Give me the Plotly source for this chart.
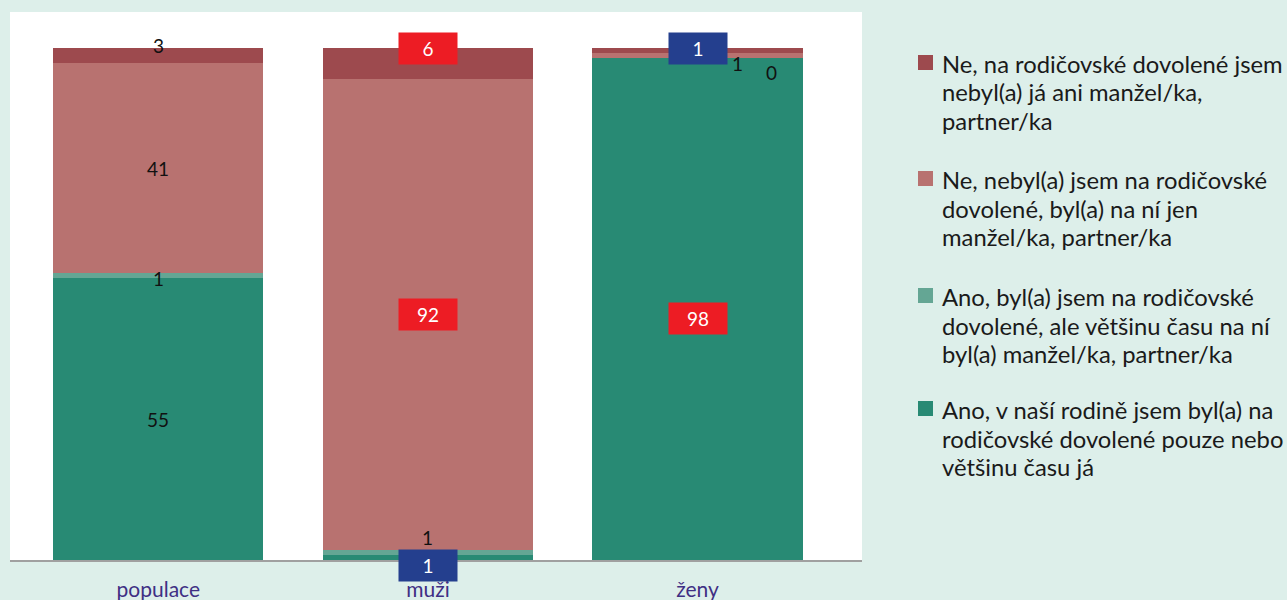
import plotly.graph_objects as go

# Kategorie a podíly (%) jednotlivých odpovědí
categories = ["populace", "muži", "ženy"]

ano_jen_ja = [55, 1, 98]
ano_vetsinou_partner = [1, 1, 0]
ne_jen_partner = [41, 92, 1]
ne_nikdo = [3, 6, 1]

series_names = [
    ["Ano, v naší rodině jsem byl(a) na", "rodičovské dovolené pouze nebo", "většinu času já"],
    ["Ano, byl(a) jsem na rodičovské", "dovolené, ale většinu času na ní", "byl(a) manžel/ka, partner/ka"],
    ["Ne, nebyl(a) jsem na rodičovské", "dovolené, byl(a) na ní jen", "manžel/ka, partner/ka"],
    ["Ne, na rodičovské dovolené jsem", "nebyl(a) já ani manžel/ka,", "partner/ka"],
]
series_values = [ano_jen_ja, ano_vetsinou_partner, ne_jen_partner, ne_nikdo]
series_colors = ["#288A74", "#64A694", "#B87270", "#9D4A4E"]

BG = "#DDEFEA"
FONT = "Lato, 'Open Sans', sans-serif"

fig = go.Figure()
for name, vals, col in zip(series_names, series_values, series_colors):
    fig.add_trace(go.Bar(
        x=categories, y=vals, name=" ".join(name), marker=dict(color=col, line=dict(width=0)),
        width=0.78, showlegend=False, hoverinfo="skip",
    ))

# Popisky hodnot: (série, kategorie) -> barva rámečku a posun v px
RED_BOX = "#ED1C24"
BLUE_BOX = "#243F8E"
label_style = {
    (0, 0): (None, 0, 0), (1, 0): (None, 0, -3), (2, 0): (None, 0, 0), (3, 0): (None, 0, 10),
    (0, 1): (BLUE_BOX, 0, -8), (1, 1): (None, 0, 15), (2, 1): (RED_BOX, 0, 0), (3, 1): (RED_BOX, 0, 15),
    (0, 2): (RED_BOX, 0, -9), (1, 2): (None, 74, -14), (2, 2): (None, 40, -8), (3, 2): (BLUE_BOX, 0, 2),
}

annotations = []
for ci, cat in enumerate(categories):
    base = 0
    for si, vals in enumerate(series_values):
        v = vals[ci]
        mid = base + v / 2
        base += v
        box, dx, dy = label_style[(si, ci)]
        ann = dict(
            x=cat, y=mid, xref="x", yref="y", text=str(v), showarrow=False,
            xshift=dx, yshift=dy, font=dict(family=FONT, size=19,
                                            color="white" if box else "#111111"),
        )
        if box:
            ann.update(bgcolor=box, width=58, height=31, borderpad=0, align="center", valign="middle")
        annotations.append(ann)

# Legenda vpravo (čtverečky + text po řádcích)
plot_left, plot_right, plot_top, plot_bottom = 10, 862, 12, 560
pw, ph = plot_right - plot_left, plot_bottom - plot_top

def px_x(px):
    return (px - plot_left) / pw

def px_y(py):
    return (plot_bottom - py) / ph

legend_first_line = [410, 297, 180, 64]
line_gap = 28.5
shapes = []
for lines, col, y0 in zip(series_names, series_colors, legend_first_line):
    for k, line in enumerate(lines):
        annotations.append(dict(
            x=px_x(940), y=px_y(y0 + k * line_gap), xref="paper", yref="paper",
            xanchor="left", yanchor="middle", text=line, showarrow=False,
            font=dict(family=FONT, size=23.8, color="#1A1A1A"),
        ))
    shapes.append(dict(
        type="rect", xref="paper", yref="paper",
        x0=px_x(918), x1=px_x(933), y0=px_y(y0 + 6), y1=px_y(y0 - 9),
        fillcolor=col, line=dict(width=0),
    ))

fig.update_layout(
    barmode="stack",
    width=1287, height=600,
    margin=dict(l=plot_left, r=1287 - plot_right, t=plot_top, b=600 - plot_bottom),
    paper_bgcolor=BG, plot_bgcolor="white",
    font=dict(family=FONT),
    annotations=annotations, shapes=shapes,
    xaxis=dict(
        range=[-0.55, 2.61], showgrid=False, ticks="", zeroline=False,
        showline=True, linecolor="#A0A0A0", linewidth=1.5,
        ticklabelstandoff=10, automargin=False,
        tickfont=dict(family=FONT, size=21, color="#3F2F84"),
    ),
    yaxis=dict(range=[0, 107], showgrid=False, showticklabels=False, zeroline=False, ticks=""),
)

fig.write_html("out.html")
